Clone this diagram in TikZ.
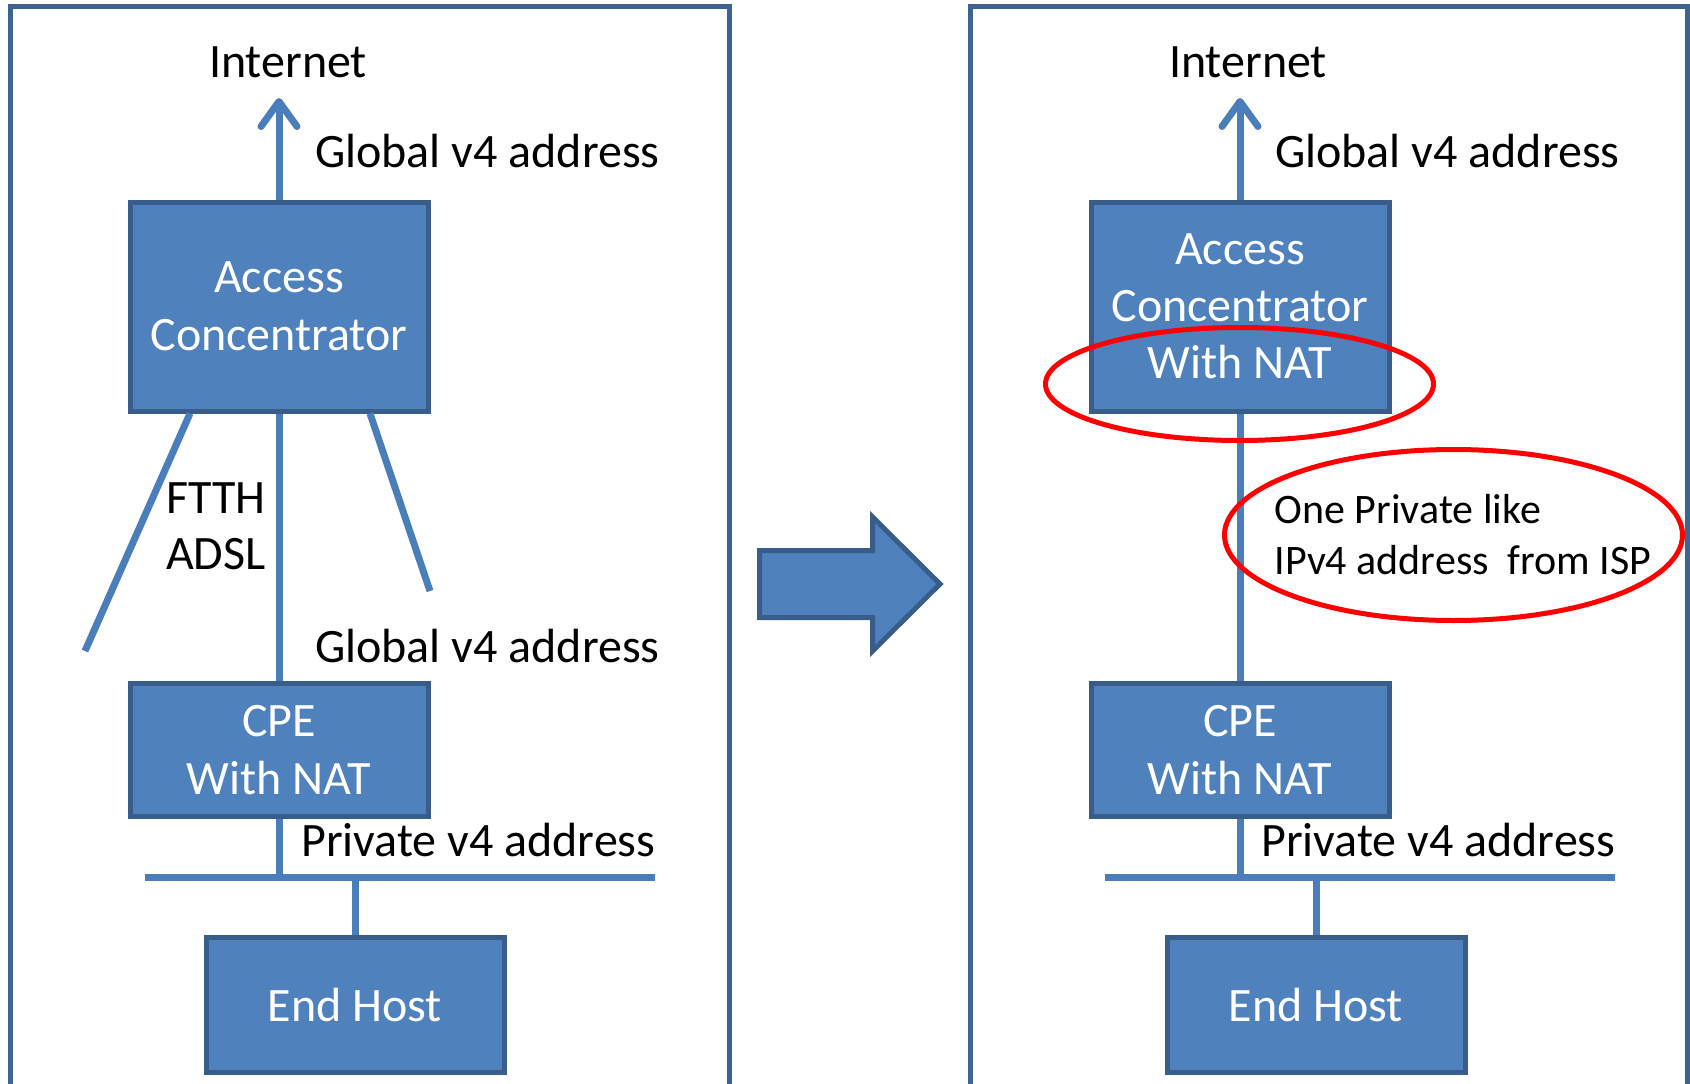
\documentclass[tikz,border=0pt]{standalone}
\usepackage{fontspec}
\setmainfont{Carlito}
\usetikzlibrary{arrows.meta,shapes.geometric}
\definecolor{boxfill}{HTML}{4F81BD}
\definecolor{boxline}{HTML}{385D8A}
\definecolor{conn}{HTML}{4A7EBB}
\definecolor{framec}{RGB}{62,98,145}
\begin{document}
\begin{tikzpicture}[x=1pt,y=-1pt,
  box/.style={draw=boxline, fill=boxfill, line width=5pt, text=white, align=center,
    minimum width=298pt, inner sep=0pt, font=\fontsize{48}{58}\selectfont},
  lbl/.style={inner sep=0pt, font=\fontsize{48}{58}\selectfont, anchor=base west},
  wire/.style={draw=conn, line width=7pt},
  upto/.style={wire, -{Straight Barb[length=25pt, width=36pt, round]}},
  panel/.style={draw=framec, line width=5pt},
  ring/.style={draw=red, line width=5pt, ellipse, inner sep=0pt},
  bigarrow/.style={draw=boxline, fill=boxfill, line width=5pt, line join=miter}
]
\useasboundingbox (0,0) rectangle (1690,1084);

% panels
\draw[panel] (10,1095) -- (10,6.5) -- (729,6.5) -- (729,1095);
\draw[panel] (970,1095) -- (970,6.5) -- (1687,6.5) -- (1687,1095);

% ---------------- left panel ----------------
\node[lbl, anchor=base] (inet1) at (288,77) {Internet};
\coordinate (tip1) at (279,98);
\node[lbl] (g1a) at (315,167) {Global v4 address};
\node[box, minimum height=209pt] (ac1) at (279,306.5) {Access\\Concentrator};
\node[box, minimum height=133pt] (cpe1) at (279,750) {CPE\\With NAT};
\node[box, minimum height=134.5pt] (eh1) at (355,1005) {End Host};
\coordinate (sl1) at (85,651);
\coordinate (sr1) at (430,591);
\coordinate (bar1a) at (145,877);
\coordinate (bar1b) at (655,877);
\node[lbl, anchor=north west, align=left, font=\fontsize{48}{56}\selectfont] (ftth) at (166,482) {FTTH\\ADSL};
\node[lbl] (g1b) at (315,662) {Global v4 address};
\node[lbl] (p1) at (301,856) {Private v4 address};

\draw[upto] (ac1.north) -- (tip1);
\draw[wire] ([xshift=-89pt]ac1.south) -- (sl1);
\draw[wire] ([xshift=91pt]ac1.south) -- (sr1);
\draw[wire] (ac1.south) -- (cpe1.north);
\draw[wire] (cpe1.south) -- (cpe1.south |- bar1a);
\draw[wire] (bar1a) -- (bar1b);
\draw[wire] (eh1.north) -- (eh1.north |- bar1a);

% ---------------- big arrow ----------------
\draw[bigarrow] (759.5,550.5) -- (872.5,550.5) -- (872.5,517) -- (940,584) -- (872.5,651) -- (872.5,617.5) -- (759.5,617.5) -- cycle;

% ---------------- right panel ----------------
\node[lbl, anchor=base] (inet2) at (1248,77) {Internet};
\coordinate (tip2) at (1240,98);
\node[lbl] (g2) at (1275,167) {Global v4 address};
\node[box, minimum height=209pt, font=\fontsize{48}{57}\selectfont] (ac2) at (1240,306.5) {\raisebox{-2pt}{Access}\\\raisebox{-2pt}{Concentrator}\\\raisebox{-2pt}{With NAT}};
\node[box, minimum height=133pt] (cpe2) at (1240,750) {CPE\\With NAT};
\node[box, minimum height=134.5pt] (eh2) at (1316,1005) {End Host};
\coordinate (bar2a) at (1105,877);
\coordinate (bar2b) at (1615,877);
\node[lbl] (p2) at (1261,856) {Private v4 address};
\node[lbl, anchor=north west, align=left, font=\fontsize{42}{51}\selectfont] (isp) at (1274.5,494) {One Private like\\IPv4 address~~from ISP};

\draw[upto] (ac2.north) -- (tip2);
\draw[wire] (ac2.south) -- (cpe2.north);
\draw[wire] (cpe2.south) -- (cpe2.south |- bar2a);
\draw[wire] (bar2a) -- (bar2b);
\draw[wire] (eh2.north) -- (eh2.north |- bar2a);

\node[ring, minimum width=388pt, minimum height=113pt] (hl1) at (1239.5,384) {};
\node[ring, minimum width=458pt, minimum height=171pt] (hl2) at (1453.5,535) {};
\end{tikzpicture}
\end{document}
